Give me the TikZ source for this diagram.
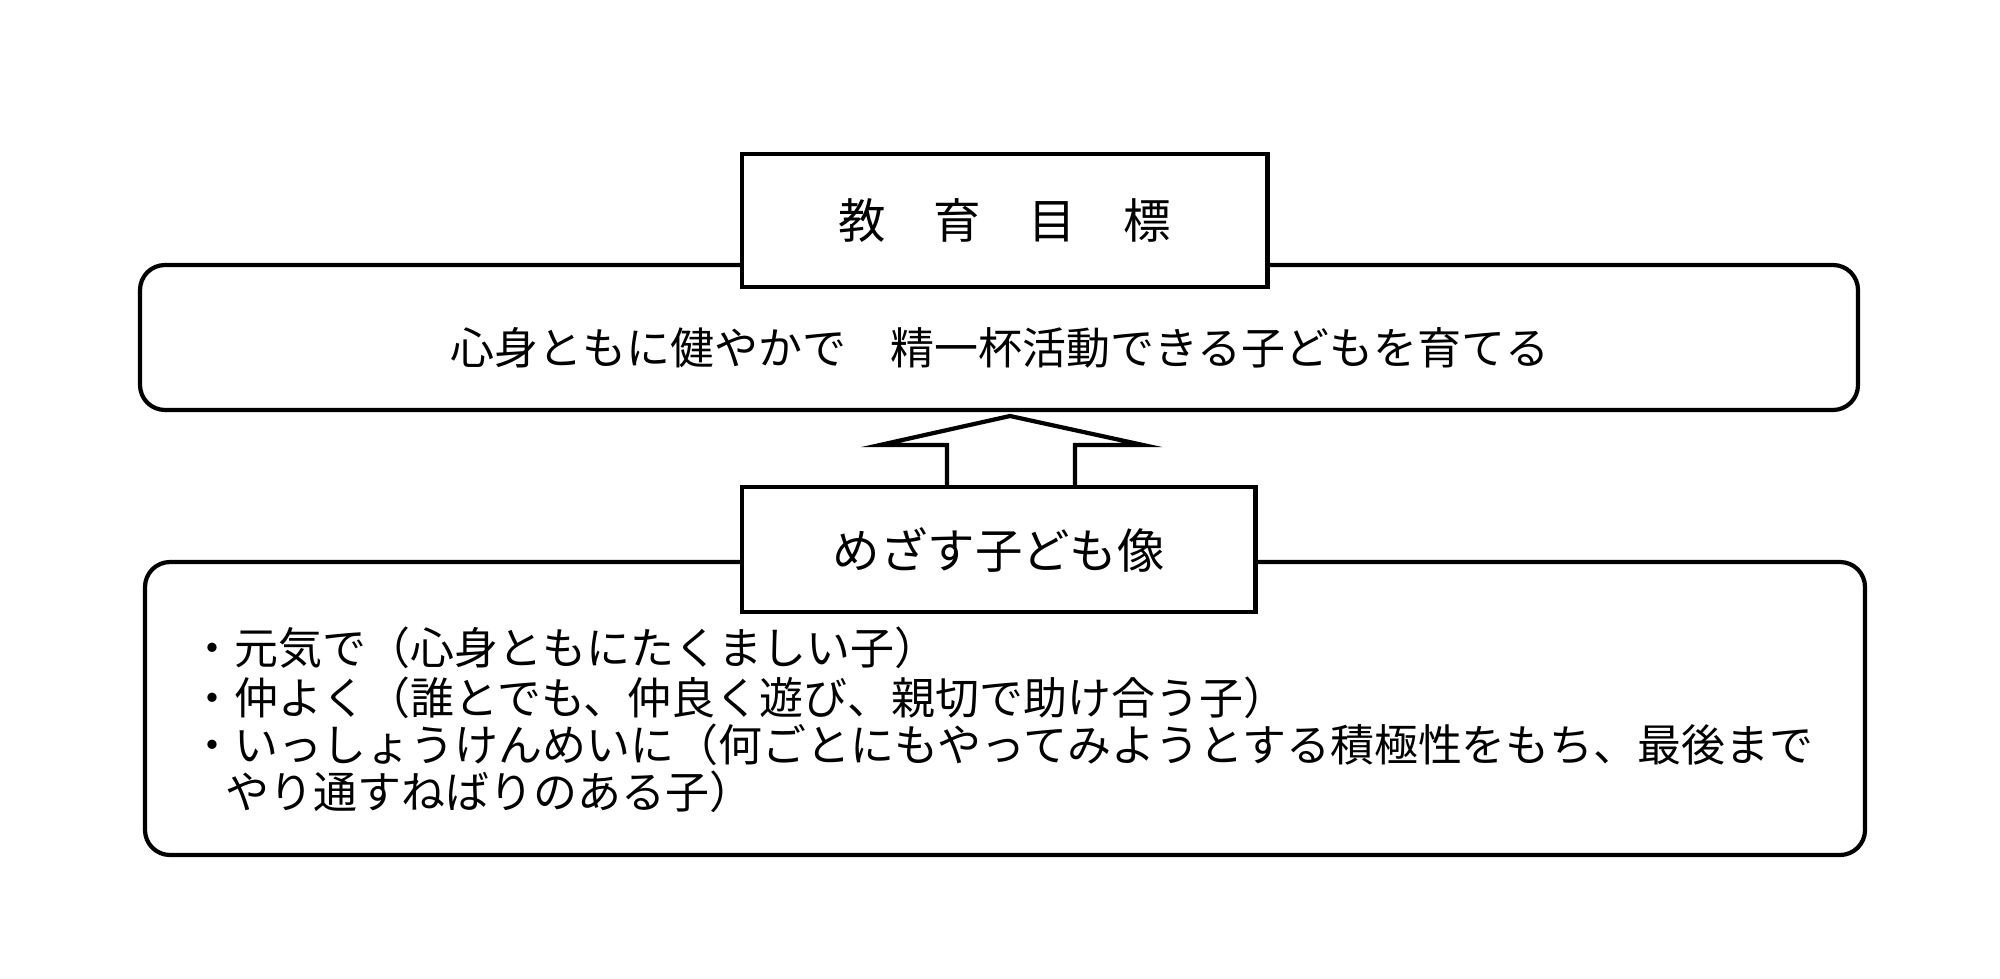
\documentclass[tikz,border=0pt]{standalone}
\usepackage{fontspec}
\setmainfont{Noto Sans CJK JP}
\begin{document}
\begin{tikzpicture}[x=0.01cm,y=-0.01cm,
  box/.style={draw,line width=1.2pt,fill=white},
  rbox/.style={draw,line width=1.2pt,rounded corners=0.25cm},
  txt/.style={font=\fontsize{12.5pt}{14pt}\selectfont,inner sep=0pt},
  head/.style={font=\fontsize{13.5pt}{15pt}\selectfont,inner sep=0pt}]
\useasboundingbox (0,0) rectangle (2000,979);
\draw[rbox] (140,265) rectangle (1858,410);
\draw[rbox] (145,562) rectangle (1865,855);
\node[box,minimum width=5.25cm,minimum height=1.33cm,anchor=north west] (goal) at (740,152) {};
\node[head] (goalt) at (goal.center) {教　育　目　標};
\node[txt] (goaltext) at (1000,348) {心身ともに健やかで　精一杯活動できる子どもを育てる};
\node[box,minimum width=5.13cm,minimum height=1.25cm,anchor=north west] (img) at (740,485) {};
\node[head] (imgt) at (img.center) {めざす子ども像};
\coordinate (tip) at (1010,416);
\draw[line width=1.2pt] (947,485) -- (947,445) -- (880,445) -- (tip) -- (1143,445) -- (1075,445) -- (1075,485);
\node[txt,anchor=west] (l1) at (190,648) {・元気で（心身ともにたくましい子）};
\node[txt,anchor=west] (l2) at (190,698) {・仲よく（誰とでも、仲良く遊び、親切で助け合う子）};
\node[txt,anchor=west] (l3) at (190,745) {・いっしょうけんめいに（何ごとにもやってみようとする積極性をもち、最後まで};
\node[txt,anchor=west] (l4) at (225,792) {やり通すねばりのある子）};
\end{tikzpicture}
\end{document}
